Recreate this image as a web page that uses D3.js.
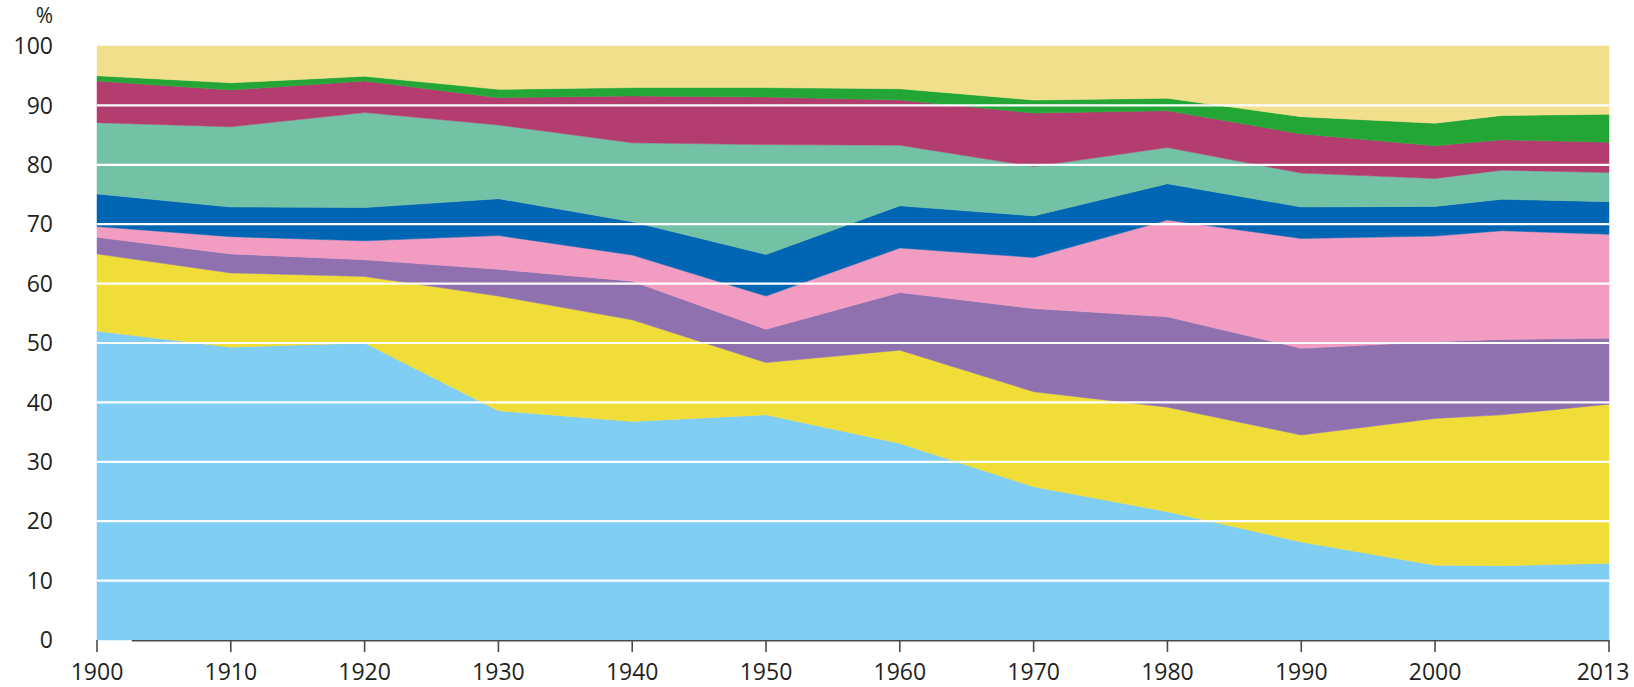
<!DOCTYPE html>
<html>
<head>
<meta charset="utf-8">
<script src="https://cdn.jsdelivr.net/npm/d3@7"></script>
<style>
  body { margin: 0; background: #fff; }
  text { font-family: "Open Sans", sans-serif; fill: #231f20; }
</style>
</head>
<body>
<svg id="chart" width="1634" height="687"></svg>
<script>
// shares in %, bottom layer first
const years     = [1900, 1910, 1920, 1930, 1940, 1950, 1960, 1970, 1980, 1990, 2000, 2005, 2013]
const lightBlue = [52.0, 49.3, 50.0, 38.6, 36.8, 37.9, 33.1, 25.8, 21.6, 16.5, 12.6, 12.5, 12.9]
const yellow    = [13.0, 12.5, 11.2, 19.3, 17.1,  8.8, 15.7, 16.0, 17.6, 18.0, 24.7, 25.4, 26.8]
const purple    = [ 2.8,  3.2,  2.8,  4.5,  6.5,  5.6,  9.7, 14.0, 15.2, 14.6, 12.9, 12.7, 11.1]
const pink      = [ 1.8,  2.9,  3.2,  5.7,  4.4,  5.6,  7.5,  8.6, 16.3, 18.5, 17.8, 18.3, 17.5]
const blue      = [ 5.5,  5.0,  5.6,  6.2,  5.6,  7.0,  7.1,  7.0,  6.1,  5.3,  5.0,  5.3,  5.5]
const teal      = [12.0, 13.5, 16.0, 12.4, 13.3, 18.5, 10.2,  8.3,  6.1,  5.7,  4.7,  4.9,  4.9]
const magenta   = [ 7.0,  6.2,  5.3,  4.6,  7.9,  8.0,  7.6,  9.0,  6.2,  6.6,  5.5,  5.1,  5.1]
const green     = [ 0.9,  1.2,  0.8,  1.4,  1.4,  1.6,  1.9,  2.2,  2.1,  2.9,  3.8,  4.1,  4.7]
const paleYellow= [ 5.0,  6.2,  5.1,  7.3,  7.0,  7.0,  7.2,  9.1,  8.8, 11.9, 13.0, 11.7, 11.5]

const xTicks = [1900, 1910, 1920, 1930, 1940, 1950, 1960, 1970, 1980, 1990, 2000, 2013]
const yTicks = [0, 10, 20, 30, 40, 50, 60, 70, 80, 90, 100]

const series = {lightBlue, yellow, purple, pink, blue, teal, magenta, green, paleYellow}
const keys = Object.keys(series)
const colors = {
  lightBlue: "#80cef3", yellow: "#f0dd38", purple: "#8f71b0", pink: "#f29cc2",
  blue: "#0066b3", teal: "#74c2a5", magenta: "#b33d6f", green: "#23a636", paleYellow: "#f2df8c"
}

const rows = years.map((yr, i) => {
  let r = {year: yr}
  keys.forEach(k => r[k] = series[k][i])
  return r
})

const svg = d3.select("#chart")

const x = d3.scaleLinear().domain([1900, 2013]).range([97, 1609])
const y = d3.scaleLinear().domain([0, 100]).range([640, 46])

const stacked = d3.stack().keys(keys)(rows)

const area = d3.area()
  .x(d => x(d.data.year))
  .y0(d => y(d[0]))
  .y1(d => y(d[1]))

// layers
svg.append("g").attr("class", "layers")
  .selectAll("path")
  .data(stacked)
  .enter().append("path")
  .attr("d", area)
  .attr("fill", d => colors[d.key])
  .attr("stroke", d => colors[d.key])
  .attr("stroke-width", 0.5)

// white grid lines on top
svg.append("g").attr("class", "grid")
  .selectAll("line")
  .data(yTicks.filter(t => t > 0 && t < 100))
  .enter().append("line")
  .attr("x1", x(1900))
  .attr("x2", x(2013))
  .attr("y1", d => y(d))
  .attr("y2", d => y(d))
  .attr("stroke", "#fff")
  .attr("stroke-width", 2.2)

// y labels
svg.append("g").attr("class", "ylabels")
  .selectAll("text")
  .data(yTicks)
  .enter().append("text")
  .attr("x", 53)
  .attr("y", d => y(d))
  .attr("dy", "0.36em")
  .attr("text-anchor", "end")
  .style("font-size", "23px")
  .text(d => d)

svg.append("text")
  .attr("x", 53)
  .attr("y", 15)
  .attr("dy", "0.36em")
  .attr("text-anchor", "end")
  .style("font-size", "21px")
  .text("%")

// x axis
svg.append("line")
  .attr("x1", x(1902.6))
  .attr("x2", x(2013))
  .attr("y1", y(0) + 0.8)
  .attr("y2", y(0) + 0.8)
  .attr("stroke", "#4a4a4a")
  .attr("stroke-width", 1.6)

let xg = svg.append("g").attr("class", "xaxis")
xg.selectAll("line")
  .data(xTicks)
  .enter().append("line")
  .attr("x1", d => x(d))
  .attr("x2", d => x(d))
  .attr("y1", y(0))
  .attr("y2", y(0) + 12)
  .attr("stroke", "#4a4a4a")
  .attr("stroke-width", 1.6)

xg.selectAll("text")
  .data(xTicks)
  .enter().append("text")
  .attr("x", d => d === 2013 ? x(d) - 6 : x(d))
  .attr("y", 672)
  .attr("dy", "0.36em")
  .attr("text-anchor", "middle")
  .style("font-size", "23px")
  .text(d => d)
</script>
</body>
</html>
